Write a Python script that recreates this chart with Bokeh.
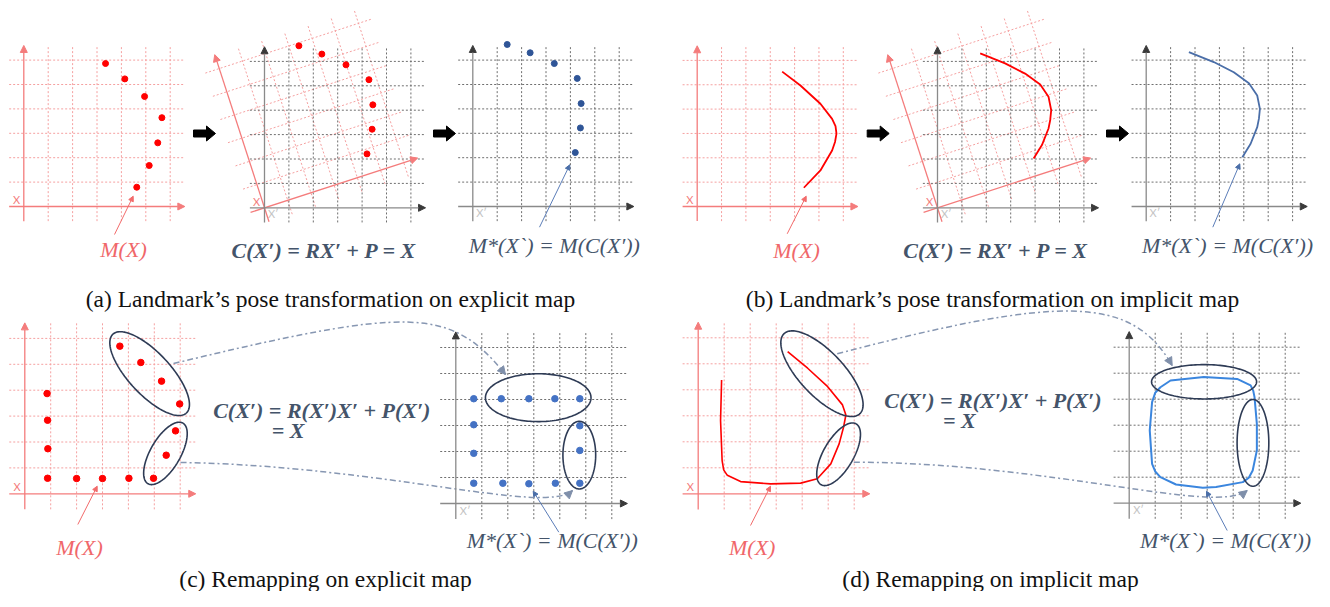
import numpy as np
from bokeh.plotting import figure
from bokeh.models import Range1d, Arrow, NormalHead
from bokeh.core.properties import value
from bokeh.embed import file_html
from bokeh.resources import INLINE

# ---------------- data (grid-cell units inside each panel) ----------------
# (a) explicit landmarks in the map frame X and in the new frame X'
a_map_x = [3.35, 4.14, 4.95, 5.66, 5.49, 5.14, 4.63]
a_map_y = [5.86, 5.23, 4.51, 3.64, 2.61, 1.68, 0.79]
a_new_x = [1.41, 2.35, 3.34, 4.28, 4.44, 4.41, 4.20]
a_new_y = [6.64, 6.30, 5.86, 5.25, 4.22, 3.22, 2.21]

# (b) implicit landmark (curve) in X and in X'
b_map_x = [3.49, 4.24, 5.06, 5.54, 5.68, 5.72, 5.66, 5.54, 5.06, 4.38]
b_map_y = [5.54, 4.97, 4.22, 3.60, 3.30, 2.99, 2.65, 2.30, 1.48, 0.77]
b_new_x = [1.75, 2.77, 3.59, 4.21, 4.55, 4.66, 4.62, 4.55, 4.28, 3.94]
b_new_y = [6.33, 5.92, 5.50, 5.05, 4.55, 4.00, 3.60, 3.25, 2.57, 2.02]

# (c) explicit map before / after remapping
c_map_x = [3.67, 4.48, 5.28, 5.98, 5.82, 5.46, 4.97, 4.02, 3.00, 2.00, 0.88, 0.89, 0.88, 0.86]
c_map_y = [5.70, 5.07, 4.35, 3.47, 2.43, 1.49, 0.60, 0.60, 0.59, 0.59, 0.60, 1.74, 2.84, 3.87]
c_new_x = [0.69, 1.75, 2.81, 3.81, 4.77, 0.69, 0.69, 0.69, 1.81, 2.81, 3.83, 4.77, 4.77, 4.77]
c_new_y = [4.03, 4.03, 4.03, 4.03, 4.03, 3.03, 1.93, 0.78, 0.78, 0.76, 0.78, 0.78, 2.04, 2.99]

# (d) implicit map before / after remapping
d_map_x = [0.90, 0.86, 0.92, 0.98, 1.12, 1.63, 2.78, 3.94, 4.58, 5.10, 5.42, 5.59, 5.68, 5.55, 4.98, 4.21, 3.44]
d_map_y = [4.38, 2.82, 1.28, 0.92, 0.71, 0.47, 0.38, 0.41, 0.58, 1.15, 1.92, 2.56, 3.03, 3.42, 4.12, 4.83, 5.47]
d_new_x = [1.20, 1.59, 2.87, 4.15, 4.67, 4.77, 4.82, 4.91, 4.91, 4.75, 4.60, 4.37, 3.34, 2.83,
           1.80, 1.20, 1.00, 0.88, 0.79, 0.88, 1.00, 1.20]
d_new_y = [4.46, 4.72, 4.85, 4.78, 4.53, 4.33, 4.08, 3.05, 2.03, 1.26, 0.98, 0.81, 0.62, 0.59,
           0.72, 1.00, 1.22, 1.51, 2.80, 3.89, 4.25, 4.46]

# highlighted groups (panel, centre x, centre y, semi-major, semi-minor, angle deg)
ellipses = [
    ("c1", 4.82, 4.64, 2.08, 0.81, -47), ("c1", 5.43, 1.56, 1.35, 0.58, 60),
    ("c2", 3.17, 4.07, 2.03, 0.92, 0), ("c2", 4.75, 1.86, 1.30, 0.63, 90),
    ("d1", 4.76, 4.62, 2.12, 0.85, -46.6), ("d1", 5.40, 1.52, 1.35, 0.58, 60),
    ("d2", 2.88, 4.67, 2.02, 0.66, 0), ("d2", 4.76, 2.32, 1.67, 0.61, 90),
]

# texts
captions = ["(a) Landmark’s pose transformation on explicit map",
            "(b) Landmark’s pose transformation on implicit map",
            "(c) Remapping on explicit map",
            "(d) Remapping on implicit map"]
formula_rigid = "C(X′) = RX′ + P = X"
formula_nonrigid = ["C(X′) = R(X′)X′ + P(X′)", "= X"]
label_map = "M(X)"
label_new = "M*(X`) = M(C(X′))"

# ---------------- layout (picture pixels) ----------------
PANELS = {
    "a1": (23.3, 206.0, 24.4), "a2": (264.0, 207.3, 24.4), "a3": (472.3, 206.0, 24.4),
    "b1": (696.7, 206.0, 24.35), "b2": (937.0, 207.3, 24.4), "b3": (1145.7, 206.0, 24.4),
    "c1": (24.3, 493.3, 25.9), "c2": (455.3, 503.0, 26.0),
    "d1": (697.7, 493.3, 26.0), "d2": (1128.7, 502.7, 26.0),
}
ROT = 18.0

RED_GRID = "#F5A0A0"
RED_AXIS = "#F47C7C"
RED_PT = "#FF0000"
GRAY_GRID = "#6F6F6F"
GRAY_AXIS = "#8A8A8A"
DARK_HEAD = "#3A3A3A"
BLUE_A = "#2F5597"
BLUE_C = "#4472C4"
BLUE_B = "#4A6EA8"
BLUE_D = "#3B86DE"
ELL = "#2E3B55"
CONN = "#8797B2"
SLATE = "#44546A"
LBL_RED = "#F0676A"
SERIF = value("Liberation Serif")

p = figure(width=1314, height=591, x_range=Range1d(0, 1314), y_range=Range1d(591, 0),
           output_backend="svg", toolbar_location=None, min_border=0,
           x_axis_location=None, y_axis_location=None)
p.grid.grid_line_color = None
p.outline_line_color = None
p.background_fill_color = "white"
p.border_fill_color = "white"


def P(panel, cx, cy, rot=0.0):
    ox, oy, s = PANELS[panel]
    cx = np.asarray(cx, float)
    cy = np.asarray(cy, float)
    if rot:
        t = np.radians(rot)
        cx, cy = cx * np.cos(t) - cy * np.sin(t), cx * np.sin(t) + cy * np.cos(t)
    return ox + cx * s, oy - cy * s


def grid(panel, color, rot=0.0):
    xs, ys = [], []
    for k in range(1, 7):
        x, y = P(panel, [k, k], [-0.6, 6.6], rot)
        xs.append(list(x)); ys.append(list(y))
        x, y = P(panel, [-0.6, 6.6], [k, k], rot)
        xs.append(list(x)); ys.append(list(y))
    p.multi_line(xs, ys, line_color=color, line_dash="2 2", line_width=1)


def arrow(x0, y0, x1, y1, color, head_color, lw=1.2, size=7, alpha=1.0):
    p.add_layout(Arrow(x_start=float(x0), y_start=float(y0), x_end=float(x1), y_end=float(y1),
                       line_color=color, line_width=lw, line_alpha=alpha,
                       end=NormalHead(size=size, fill_color=head_color, line_color=head_color)))


def axes(panel, color, head, rot=0.0):
    x, y = P(panel, [-0.6, 6.6], [0, 0], rot)
    arrow(x[0], y[0], x[1], y[1], color, head, lw=1.3)
    x, y = P(panel, [0, 0], [-0.6, 6.6], rot)
    arrow(x[0], y[0], x[1], y[1], color, head, lw=1.3)


def small_label(panel, cx, cy, txt, color):
    x, y = P(panel, [cx], [cy])
    p.text(x=list(x), y=list(y), text=[txt], text_color=color, text_font=value("Lato"),
           text_font_size="11px", text_align="center", text_baseline="middle")


# rotated (old-frame) grids in the middle panels
for pn in ("a2", "b2"):
    grid(pn, RED_GRID, ROT)

# straight grids
for pn in ("a1", "b1", "c1", "d1"):
    grid(pn, RED_GRID)
for pn in ("a2", "a3", "b2", "b3", "c2", "d2"):
    grid(pn, GRAY_GRID)

# axes
for pn in ("a1", "b1", "c1", "d1"):
    axes(pn, RED_AXIS, RED_AXIS)
    small_label(pn, -0.3, 0.3, "X", RED_AXIS)
for pn in ("a2", "b2"):
    axes(pn, RED_AXIS, RED_AXIS, ROT)
    small_label(pn, -0.33, 0.24, "X", RED_AXIS)
for pn in ("a2", "a3", "b2", "b3", "c2", "d2"):
    axes(pn, GRAY_AXIS, DARK_HEAD)
    small_label(pn, 0.36, -0.25, "X′", "#C4C4C4")

# landmarks
x, y = P("a1", a_map_x, a_map_y); p.scatter(x, y, size=6, color=RED_PT)
x, y = P("a2", a_new_x, a_new_y); p.scatter(x, y, size=6, color=RED_PT)
x, y = P("a3", a_new_x, a_new_y); p.scatter(x, y, size=6, color=BLUE_A)

x, y = P("b1", b_map_x, b_map_y); p.line(x, y, line_color=RED_PT, line_width=1.8)
x, y = P("b2", b_new_x, b_new_y); p.line(x, y, line_color=RED_PT, line_width=1.8)
x, y = P("b3", b_new_x, b_new_y); p.line(x, y, line_color=BLUE_B, line_width=1.8)

x, y = P("c1", c_map_x, c_map_y); p.scatter(x, y, size=6.5, color=RED_PT)
x, y = P("c2", c_new_x, c_new_y); p.scatter(x, y, size=6.5, color=BLUE_C)

x, y = P("d1", d_map_x, d_map_y); p.line(x, y, line_color=RED_PT, line_width=1.6)
x, y = P("d2", d_new_x, d_new_y); p.line(x, y, line_color=BLUE_D, line_width=2)

# ellipses
t = np.linspace(0, 2 * np.pi, 160)
exs, eys = [], []
for pn, cx, cy, a, b, ang in ellipses:
    th = np.radians(ang)
    ex = cx + a * np.cos(t) * np.cos(th) - b * np.sin(t) * np.sin(th)
    ey = cy + a * np.cos(t) * np.sin(th) + b * np.sin(t) * np.cos(th)
    X, Y = P(pn, ex, ey)
    exs.append(list(X)); eys.append(list(Y))
p.multi_line(exs, eys, line_color=ELL, line_width=1.6)

# dash-dot connectors (picture pixels): x0, y0, cx0, cy0, cx1, cy1, x1, y1
connectors = [
    (173.0, 363.0, 410.0, 306.0, 450.0, 306.0, 505.0, 374.0),
    (180.0, 462.0, 380.0, 465.0, 545.0, 515.0, 572.0, 490.0),
    (836.7, 353.3, 1061.0, 294.5, 1131.0, 294.5, 1171.7, 365.0),
    (853.3, 461.7, 1050.0, 462.0, 1215.0, 515.0, 1246.7, 490.0),
]
for x0, y0, cx0, cy0, cx1, cy1, x1, y1 in connectors:
    p.bezier(x0=[x0], y0=[y0], cx0=[cx0], cy0=[cy0], cx1=[cx1], cy1=[cy1], x1=[x1], y1=[y1],
             line_color=CONN, line_width=1.5, line_dash="6 3 2 3")
    d = np.hypot(x1 - cx1, y1 - cy1)
    ux, uy = (x1 - cx1) / d, (y1 - cy1) / d
    arrow(x1 - 4 * ux, y1 - 4 * uy, x1, y1, CONN, "#7F8FAA", lw=1, size=8, alpha=0.0)

# thin annotation arrows (start, tip)
ann_red = [(114.0, 234.0, 132.7, 195.7), (786.7, 233.3, 805.7, 195.7),
           (77.3, 524.0, 96.7, 485.7), (750.0, 525.0, 770.0, 485.7)]
ann_blue = [(539.0, 226.7, 569.3, 164.3), (1212.3, 226.7, 1239.3, 163.3),
            (558.3, 531.7, 532.7, 490.7), (1226.7, 530.0, 1206.0, 490.7)]
for a0, b0, a1, b1 in ann_red:
    arrow(a0, b0, a1, b1, "#F26B6B", "#F26B6B", lw=1, size=5)
for a0, b0, a1, b1 in ann_blue:
    arrow(a0, b0, a1, b1, "#5B7DB8", "#4A6EA8", lw=1, size=5)

# block arrows between stages
block_x = [193.0, 433.0, 866.7, 1106.0]
block_y = 133.0
bxs, bys = [], []
for bx in block_x:
    e = bx + 22
    bxs.append([bx, e - 9, e - 9, e, e - 9, e - 9, bx])
    bys.append([block_y - 3.5, block_y - 3.5, block_y - 7.5, block_y,
                block_y + 7.5, block_y + 3.5, block_y + 3.5])
p.patches(bxs, bys, fill_color="black", line_color="black")

# text labels
def txt(xs, ys, texts, color, size, style="normal", font=SERIF):
    p.text(x=xs, y=ys, text=texts, text_color=color, text_font=font, text_font_size=size,
           text_font_style=style, text_align="center", text_baseline="middle")

txt([323.3, 995.0], [250.0, 250.0], [formula_rigid, formula_rigid], SLATE, "22px", "bold italic")
txt([321.3, 992.5], [410.0, 400.0], [formula_nonrigid[0]] * 2, SLATE, "22px", "bold italic")
txt([287.5, 958.8], [430.0, 420.0], [formula_nonrigid[1]] * 2, SLATE, "22px", "bold italic")
txt([123.0, 796.0, 79.0, 751.7], [249.0, 250.0, 546.7, 546.7], [label_map] * 4, LBL_RED, "22px", "italic")
txt([553.8, 1227.0, 551.7, 1225.0], [245.0, 245.0, 540.0, 540.0], [label_new] * 4, SLATE, "22px", "italic")
txt([330.0, 992.0, 325.0, 990.0], [298.0, 298.0, 578.0, 578.0], captions, "#111111", "23.5px")

open("out.html", "w").write(file_html(p, INLINE))
